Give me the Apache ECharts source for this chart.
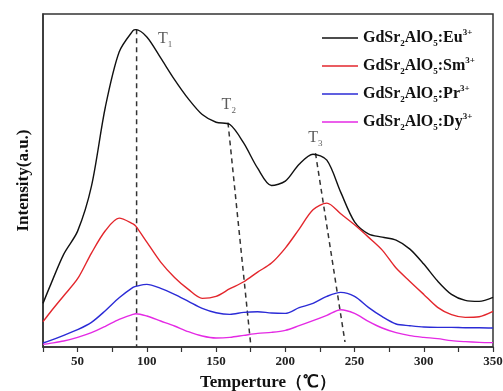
<!DOCTYPE html>
<html>
<head>
<meta charset="utf-8">
<script src="https://cdn.jsdelivr.net/npm/echarts@6/dist/echarts.min.js"></script>
<style>
  html, body { margin: 0; padding: 0; background: #fff; }
  #chart { width: 503px; height: 391px; }
</style>
</head>
<body>
<div id="chart"></div>
<script>
// temperature (℃) sample points
const temps = [25, 30, 40, 50, 60, 70, 80, 90, 92, 100, 110, 120, 130, 140, 150, 160, 170, 180,
  190, 200, 210, 220, 230, 240, 250, 260, 270, 280, 290, 300, 310, 320, 330, 340, 350];

// intensity (a.u.)
const eu = [13.1, 18.2, 27.9, 34.8, 48.3, 72.0, 88.6, 95.0, 95.3, 93.1, 86.8, 80.3, 74.5, 69.8, 67.5, 66.8, 61.2, 53.7,
  48.5, 49.8, 54.9, 57.9, 56.1, 46.5, 37.6, 34.0, 33.0, 32.1, 29.4, 24.9, 19.8, 15.8, 14.0, 13.7, 14.9];
const sm = [7.6, 10.3, 15.4, 20.5, 28.2, 34.9, 38.7, 37.0, 36.3, 31.5, 25.5, 20.9, 17.3, 14.6, 15.2, 17.5, 19.6, 22.5,
  25.2, 29.7, 35.4, 41.2, 43.2, 40.0, 36.7, 33.0, 29.1, 23.7, 19.7, 15.8, 11.9, 9.7, 8.9, 9.1, 10.7];
const pr = [1.2, 1.9, 3.5, 5.2, 7.4, 10.9, 14.8, 17.9, 18.2, 18.8, 17.6, 15.8, 13.7, 11.6, 10.3, 9.8, 10.4, 10.6,
  10.2, 10.1, 11.8, 13.1, 15.2, 16.4, 15.2, 11.9, 9.1, 6.9, 6.4, 6.0, 5.9, 5.9, 5.8, 5.8, 5.7];
const dy = [0.8, 1.1, 1.8, 2.9, 4.3, 6.2, 8.3, 9.8, 10.0, 9.3, 7.8, 6.3, 4.6, 3.3, 2.7, 2.9, 3.5, 4.1,
  4.4, 5.0, 6.4, 7.9, 9.5, 11.2, 10.1, 7.7, 5.7, 4.3, 3.4, 2.9, 2.5, 1.9, 1.6, 1.4, 1.3];

const ions = ['Eu', 'Sm', 'Pr', 'Dy'];
const colors = ['#111111', '#e3262c', '#2b2bd6', '#e42ae4'];

// dashed peak guide lines [temp, intensity]
const t1Line = [[92.6, 95.4], [92.6, 0]];
const t2Line = [[158.6, 67.4], [175.2, 0]];
const t3Line = [[221.8, 58.2], [243.1, 1.5]];
// peak labels: subscript, temp, intensity
const peakLabels = [['1', 108.0, 92.5], ['2', 154.0, 72.6], ['3', 216.6, 62.7]];

const serif = '"Liberation Serif", "Times New Roman", serif';

const chart = echarts.init(document.getElementById('chart'));

const curves = [eu, sm, pr, dy].map((vals, i) => ({
  name: ions[i],
  type: 'line',
  data: temps.map((t, j) => [t, vals[j]]),
  smooth: 0.3,
  symbol: 'none',
  lineStyle: { color: colors[i], width: 1.4 },
  itemStyle: { color: colors[i] },
  z: 3
}));

const guides = [t1Line, t2Line, t3Line].map(pts => ({
  type: 'line',
  data: pts,
  symbol: 'none',
  silent: true,
  lineStyle: { color: '#333', width: 1.5, type: [5, 4] },
  z: 2
}));

const option = {
  animation: false,
  grid: {
    left: 43, right: 10, top: 14, bottom: 44,
    outerBoundsMode: 'none',
    show: true, borderColor: '#333', borderWidth: 1.5
  },
  legend: {
    data: ions,
    orient: 'vertical',
    left: 317,
    top: 23,
    icon: 'rect',
    itemWidth: 36,
    itemHeight: 1.5,
    itemGap: 8,
    formatter: n => `{b|GdSr}{s|2}{b|AlO}{s|5}{b|:${n}}{p|3+}`,
    textStyle: {
      rich: {
        b: { fontFamily: serif, fontWeight: 'bold', fontSize: 16, color: '#111', lineHeight: 20 },
        s: { fontFamily: serif, fontWeight: 'bold', fontSize: 9, color: '#111', lineHeight: 9, verticalAlign: 'bottom' },
        p: { fontFamily: serif, fontWeight: 'bold', fontSize: 9, color: '#111', lineHeight: 9, verticalAlign: 'top' }
      }
    }
  },
  xAxis: {
    type: 'value',
    min: 25,
    max: 350,
    interval: 25,
    name: 'Temperture（℃）',
    nameLocation: 'middle',
    nameGap: 27,
    nameTextStyle: { fontFamily: serif, fontWeight: 'bold', fontSize: 17, color: '#111' },
    axisLine: { show: true, lineStyle: { color: '#333', width: 1.5 } },
    axisTick: { show: true, inside: false, length: 5, lineStyle: { color: '#333', width: 1.2 } },
    axisLabel: {
      formatter: v => (v % 50 === 0 ? String(v) : ''),
      fontFamily: serif, fontWeight: 'bold', fontSize: 13, color: '#222', margin: 8
    },
    splitLine: { show: false }
  },
  yAxis: {
    type: 'value',
    min: 0,
    max: 100,
    name: 'Intensity(a.u.)',
    nameLocation: 'middle',
    nameGap: 11,
    nameTextStyle: { fontFamily: serif, fontWeight: 'bold', fontSize: 17, color: '#111' },
    axisLine: { show: true, lineStyle: { color: '#333', width: 1.5 } },
    axisTick: { show: false },
    axisLabel: { show: false },
    splitLine: { show: false }
  },
  series: [
    ...curves,
    ...guides,
    {
      type: 'scatter',
      data: peakLabels.map(p => ({ value: [p[1], p[2]], sub: p[0] })),
      symbolSize: 0,
      silent: true,
      label: {
        show: true,
        position: 'right',
        distance: 0,
        formatter: p => `{t|T}{s|${p.data.sub}}`,
        rich: {
          t: { fontFamily: serif, fontSize: 16, color: '#333', lineHeight: 20 },
          s: { fontFamily: serif, fontSize: 9, color: '#333', lineHeight: 9, verticalAlign: 'bottom' }
        }
      },
      z: 4
    }
  ]
};

chart.setOption(option);
window.addEventListener('resize', () => chart.resize());
</script>
</body>
</html>
